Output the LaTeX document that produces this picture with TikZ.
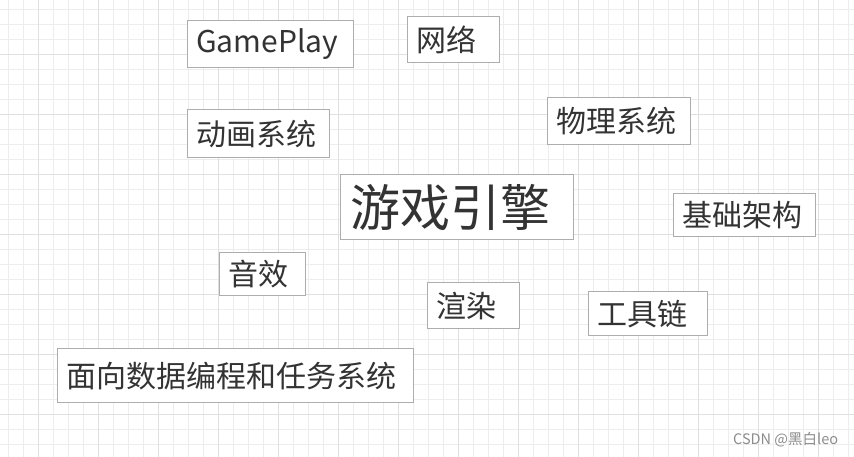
\documentclass[tikz,border=0pt]{standalone}
\usepackage{fontspec}
\setmainfont{Noto Sans CJK SC}
\begin{document}
\begin{tikzpicture}[x=1pt,y=-1pt,
  minorline/.style={draw=black!7, line width=0.8pt},
  majorline/.style={draw=black!12, line width=0.9pt},
  box/.style={draw=black!32, line width=1.3pt, fill=white, text=black!80,
    anchor=north west, align=left, inner xsep=8.5pt, inner ysep=0pt,
    font=\fontsize{30}{36}\selectfont},
  wmtext/.style={text=black!45, font=\fontsize{14.5}{17}\selectfont, inner sep=0pt}]
\useasboundingbox (0,0) rectangle (854,457);
\fill[white] (0,0) rectangle (854,457);
% grid
\foreach \i in {0,...,56} \draw[minorline] ({8.3+15*\i},0) -- ({8.3+15*\i},457);
\foreach \j in {0,...,29} \draw[minorline] (0,{9.3+15*\j}) -- (854,{9.3+15*\j});
\foreach \i in {0,...,13} \draw[majorline] ({38.3+60*\i},0) -- ({38.3+60*\i},457);
\foreach \j in {0,...,6} \draw[majorline] (0,{54.3+60*\j}) -- (854,{54.3+60*\j});
% boxes
\node[box, text width=149pt, minimum height=47pt] (gameplay) at (187,20) {GamePlay};
\node[box, text width=75pt, minimum height=46pt] (net) at (407,16) {网络};
\node[box, text width=125pt, minimum height=48pt] (anim) at (187,109) {动画系统};
\node[box, text width=126pt, minimum height=47pt] (phys) at (547,97) {物理系统};
\node[box, text width=214pt, minimum height=65pt, inner xsep=9.5pt,
  font=\fontsize{50}{60}\selectfont] (engine) at (340,174) {游戏引擎};
\node[box, text width=125pt, minimum height=43pt] (base) at (673,193) {基础架构};
\node[box, text width=69pt, minimum height=43pt] (audio) at (219,252) {音效};
\node[box, text width=75pt, minimum height=46pt] (render) at (427,282) {渲染};
\node[box, text width=102pt, minimum height=44pt] (tools) at (588,291) {工具链};
\node[box, text width=339pt, minimum height=54pt] (dod) at (57,348) {面向数据编程和任务系统};
% watermark
\node[wmtext, anchor=west] (wm) at (733,440) {CSDN @黑白leo};
\end{tikzpicture}
\end{document}
